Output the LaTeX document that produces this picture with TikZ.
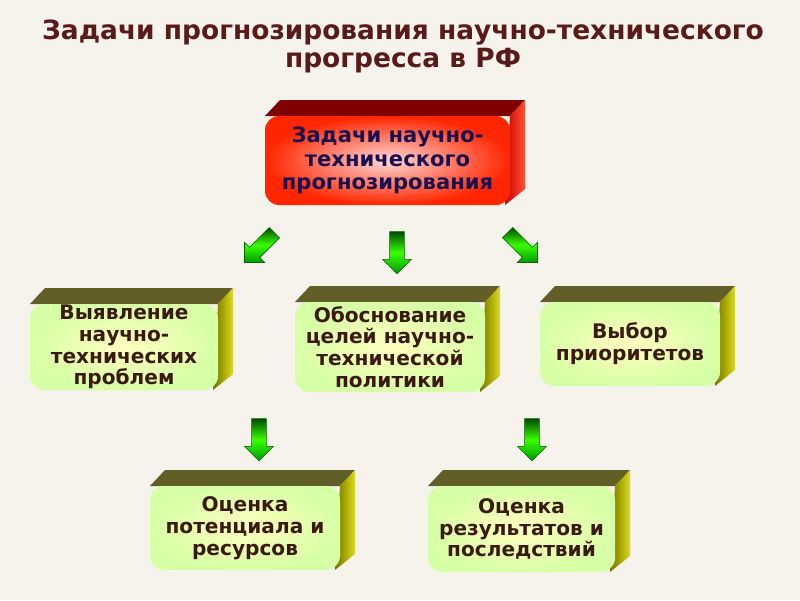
\documentclass[tikz,border=0pt]{standalone}
\usepackage{fontspec}
\setmainfont{DejaVu Sans}
\usetikzlibrary{shapes.arrows,calc}
\definecolor{bg}{HTML}{F6F2EC}
\definecolor{ttl}{HTML}{5A1A18}
\definecolor{navy}{HTML}{1A1050}
\definecolor{brn}{HTML}{3A1A10}
\tikzset{
  front/.style={rounded corners=10pt, inner sep=0pt, align=center, font=\bfseries\fontsize{14.3}{15.5}\selectfont, text=brn,
    inner color=yellow!25!white, outer color=yellow!55!green!35!white},
  redfront/.style={front, text=navy, font=\bfseries\fontsize{15}{16.5}\selectfont, inner color=red!15!white, outer color=red!70!orange},
  ytop/.style={fill=black!20!olive!75!black},
  yside/.style={left color=olive!90!black, right color=yellow!60!olive!70},
  redtop/.style={fill=red!50!black},
  redside/.style={left color=red!80!black, right color=red!70!orange!80},
  garrow/.style={single arrow, draw=black!60!green, single arrow head extend=5pt, minimum height=30pt, inner sep=5pt,
    left color=green!30!black, right color=green!60!black, middle color=green!70!lime, shading angle=0},
}
\newcommand{\tdbox}[8]{% name, x1,y1,x2,y2, text, front style, top/side prefix
  \path[#8top] (#2,#3) -- ++(15,-16) -- (#4+15,#3-16) -- (#4,#3) -- cycle;
  \path[#8side] (#4,#3) -- (#4+15,#3-16) -- (#4+15,#5-16) -- (#4-5,#5) -- cycle;
  \node[#7, minimum width={(#4-#2)*0.025cm}, minimum height={(#5-#3)*0.025cm}] (#1) at ({(#2+#4)/2},{(#3+#5)/2}) {#6};
}
\begin{document}
\begin{tikzpicture}[x=0.025cm,y=-0.025cm]
\fill[bg] (0,0) rectangle (800,600);
\useasboundingbox (0,0) rectangle (800,600);
\node[text=ttl, font=\bfseries\fontsize{18.8}{20}\selectfont, align=center] (title) at (403,46) {Задачи прогнозирования научно-технического\\прогресса в РФ};
\tdbox{main}{265}{116}{510}{205}{Задачи научно-\\технического\\прогнозирования}{redfront}{red}
\tdbox{b1}{30}{304}{218}{390}{Выявление\\научно-\\технических\\проблем}{front}{y}
\tdbox{b2}{295}{302}{485}{392}{Обоснование\\целей научно-\\технической\\политики}{front}{y}
\tdbox{b3}{540}{302}{720}{386}{Выбор\\приоритетов}{front}{y}
\tdbox{b4}{150}{486}{340}{570}{Оценка\\потенциала и\\ресурсов}{front}{y}
\tdbox{b5}{428}{486}{615}{572}{Оценка\\результатов и\\последствий}{front}{y}
\node[garrow, rotate=225] (a1) at (262,245) {};
\node[garrow, rotate=270] (a2) at (397,249) {};
\node[garrow, rotate=315] (a3) at (520,245) {};
\node[garrow, rotate=270] (a4) at (259,436) {};
\node[garrow, rotate=270] (a5) at (532,436) {};
\end{tikzpicture}
\end{document}
